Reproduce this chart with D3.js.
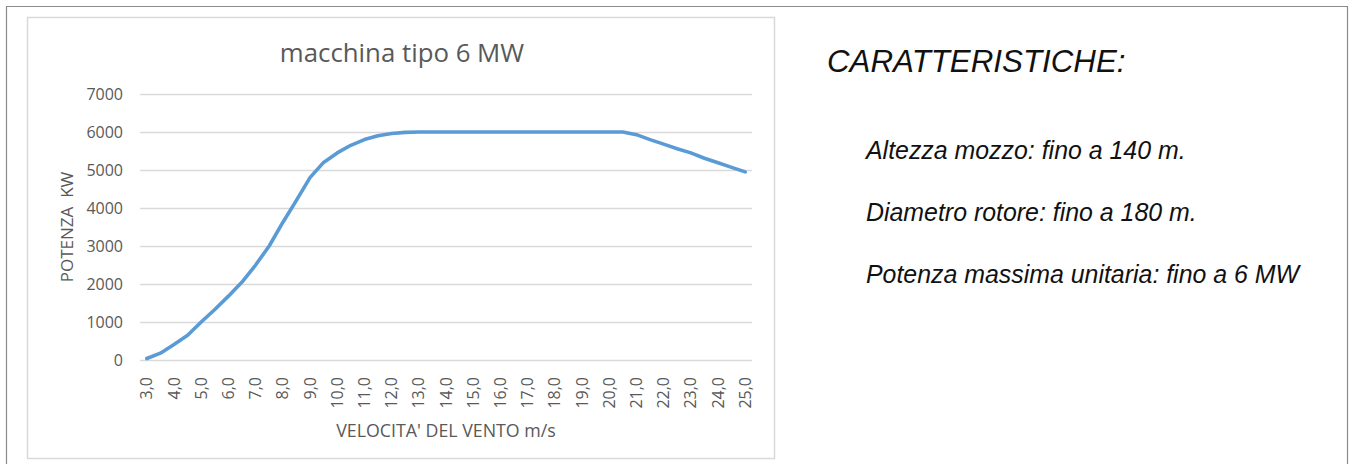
<!DOCTYPE html>
<html><head><meta charset="utf-8">
<script src="https://cdn.jsdelivr.net/npm/d3@7"></script>
<style>
html,body{margin:0;padding:0;background:#fff;}
svg{display:block;}
</style></head>
<body><svg id="c" width="1350" height="464"></svg>
<script>
// wind speed categories (m/s), step 0.5
const speeds = [3.0,3.5,4.0,4.5,5.0,5.5,6.0,6.5,7.0,7.5,8.0,8.5,9.0,9.5,10.0,10.5,11.0,11.5,12.0,12.5,
  13.0,13.5,14.0,14.5,15.0,15.5,16.0,16.5,17.0,17.5,18.0,18.5,19.0,19.5,20.0,20.5,
  21.0,21.5,22.0,22.5,23.0,23.5,24.0,24.5,25.0];
// power (kW)
const power = [40,180,410,650,1000,1330,1680,2050,2500,3000,3620,4200,4800,5200,5450,5650,5800,5900,5960,5990,
  6000,6000,6000,6000,6000,6000,6000,6000,6000,6000,6000,6000,6000,6000,6000,6000,
  5930,5800,5680,5560,5450,5310,5190,5070,4950];
const xTickLabels = ["3,0","4,0","5,0","6,0","7,0","8,0","9,0","10,0","11,0","12,0","13,0","14,0","15,0","16,0","17,0","18,0","19,0","20,0","21,0","22,0","23,0","24,0","25,0"];
const yTicks = [0,1000,2000,3000,4000,5000,6000,7000];
const chartTitle = "macchina tipo 6 MW";
const xTitle = "VELOCITA' DEL VENTO m/s";
const yTitle = "POTENZA  KW";
const sideTitle = "CARATTERISTICHE:";
const sideItems = ["Altezza mozzo: fino a 140 m.","Diametro rotore: fino a 180 m.","Potenza massima unitaria: fino a 6 MW"];

const svg = d3.select("#c");
const font = "'Open Sans', sans-serif";
const grey = "#595959";

// outer page border
svg.append("path").attr("d","M6.5,470 V6.5 H1347.5 V470").attr("fill","none").attr("stroke","#8c8c8c").attr("stroke-width",1.2);
// chart frame
svg.append("rect").attr("x",27.5).attr("y",17.5).attr("width",747).attr("height",441)
  .attr("fill","#fff").attr("stroke","#d9d9d9").attr("stroke-width",1.5);

const x = d3.scaleBand().domain(speeds).range([140,752]).padding(0);
const cx = v => x(v) + x.bandwidth()/2;
const y = d3.scaleLinear().domain([0,7000]).range([360,94]);

// gridlines
svg.append("g").selectAll("line").data(yTicks).join("line")
  .attr("x1",140).attr("x2",752).attr("y1",d=>Math.round(y(d))+0.5).attr("y2",d=>Math.round(y(d))+0.5)
  .attr("stroke","#d9d9d9").attr("stroke-width",1.3);

// y axis via d3.axisLeft
const yAxis = svg.append("g").attr("transform","translate(140,0)")
  .call(d3.axisLeft(y).tickValues(yTicks).tickSize(0).tickPadding(17).tickFormat(d3.format("d")));
yAxis.select(".domain").remove();
yAxis.selectAll("text").attr("font-family",font).attr("font-size",16).attr("fill",grey);

// x axis
const intSpeeds = speeds.filter(s => Number.isInteger(s));
const xAxis = svg.append("g").attr("transform","translate(0,360)")
  .call(d3.axisBottom(x).tickValues(intSpeeds).tickSize(0).tickFormat((d,i)=>xTickLabels[i]));
xAxis.select(".domain").remove();
xAxis.selectAll("text").attr("font-family",font).attr("font-size",16).attr("fill",grey)
  .attr("transform","rotate(-90)").attr("text-anchor","end").attr("x",-17).attr("y",0).attr("dy","0.35em");

// line
const line = d3.line().x((d,i)=>cx(speeds[i])).y(d=>y(d));
svg.append("path").datum(power).attr("d",line).attr("fill","none")
  .attr("stroke","#5b9bd5").attr("stroke-width",3.6).attr("stroke-linejoin","round").attr("stroke-linecap","round");

// title
svg.append("text").attr("x",402).attr("y",62).attr("text-anchor","middle")
  .attr("font-family",font).attr("font-size",25.8).attr("fill",grey).text(chartTitle);
// axis titles
svg.append("text").attr("x",446).attr("y",437).attr("text-anchor","middle")
  .attr("font-family",font).attr("font-size",17.8).attr("fill",grey).text(xTitle);
svg.append("text").attr("transform","translate(73,227) rotate(-90)").attr("text-anchor","middle")
  .style("white-space","pre").attr("font-family",font).attr("font-size",17).attr("fill",grey).text(yTitle);

// side text
const sfont = "'Liberation Sans', Arial, sans-serif";
svg.append("text").attr("x",827).attr("y",72).attr("font-family",sfont).attr("font-style","italic")
  .attr("font-size",31.3).attr("fill","#111").text(sideTitle);
svg.append("g").selectAll("text").data(sideItems).join("text")
  .attr("x",866).attr("y",(d,i)=>159+i*62).attr("font-family",sfont).attr("font-style","italic")
  .attr("font-size",24.9).attr("fill","#111").text(d=>d);
</script>
</body></html>
